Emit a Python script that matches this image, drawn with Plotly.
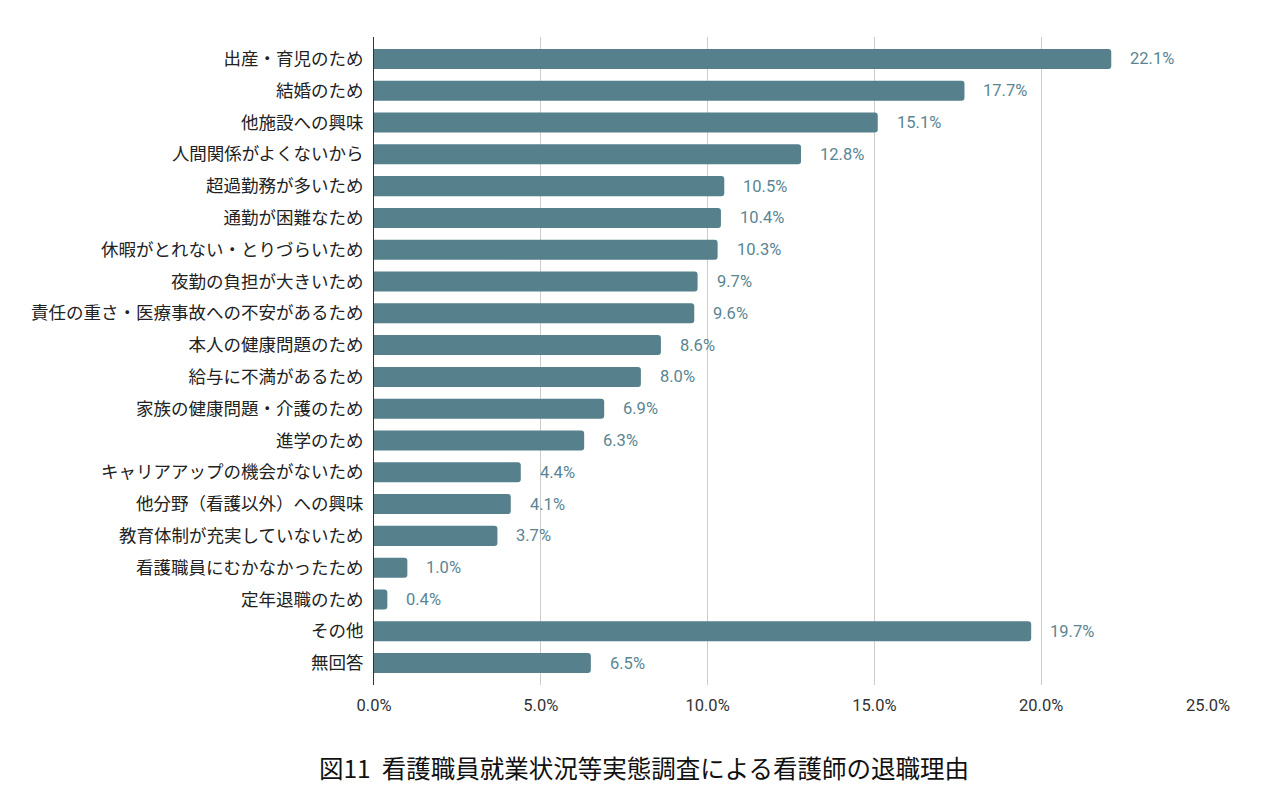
import plotly.graph_objects as go

categories = ["出産・育児のため", "結婚のため", "他施設への興味", "人間関係がよくないから",
              "超過勤務が多いため", "通勤が困難なため", "休暇がとれない・とりづらいため",
              "夜勤の負担が大きいため", "責任の重さ・医療事故への不安があるため",
              "本人の健康問題のため", "給与に不満があるため", "家族の健康問題・介護のため",
              "進学のため", "キャリアアップの機会がないため", "他分野（看護以外）への興味",
              "教育体制が充実していないため", "看護職員にむかなかったため", "定年退職のため",
              "その他", "無回答"]
values = [22.1, 17.7, 15.1, 12.8, 10.5, 10.4, 10.3, 9.7, 9.6, 8.6, 8.0, 6.9, 6.3,
          4.4, 4.1, 3.7, 1.0, 0.4, 19.7, 6.5]
tick_vals = [0, 5, 10, 15, 20, 25]
tick_text = ["0.0%", "5.0%", "10.0%", "15.0%", "20.0%", "25.0%"]
title = "図11&nbsp;&nbsp;看護職員就業状況等実態調査による看護師の退職理由"

FONT = "Roboto, 'Noto Sans CJK JP', sans-serif"
CJK = "'Noto Sans CJK JP', sans-serif"
BAR = "#55808c"

fig = go.Figure()
fig.add_trace(go.Bar(
    y=categories, x=values, orientation="h",
    marker=dict(color=BAR, line=dict(width=0)),
    hoverinfo="skip",
))

for c, v in zip(categories, values):
    fig.add_annotation(x=v, y=c, text=f"{v:.1f}%", showarrow=False,
                       xanchor="left", xshift=17,
                       font=dict(family=FONT, size=16.5, color="#5a8592"))

fig.add_annotation(x=0.324, y=-0.127, xref="paper", yref="paper", text=title,
                   showarrow=False, xanchor="center", yanchor="middle",
                   font=dict(family=CJK, size=24.5, color="#111"))

n = len(categories)
fig.update_layout(
    width=1274, height=812,
    margin=dict(l=374, r=66, t=37, b=127),
    plot_bgcolor="white", paper_bgcolor="white",
    bargap=0.37, barcornerradius=3,
    showlegend=False,
    font=dict(family=FONT, size=14, color="#222"),
    xaxis=dict(range=[0, 25], tickvals=tick_vals, ticktext=tick_text,
               showgrid=True, gridcolor="#cccccc", gridwidth=1,
               zeroline=False, showline=False, ticks="", ticklabelstandoff=8,
               tickfont=dict(family=FONT, size=16.5, color="#333"), fixedrange=True),
    yaxis=dict(range=[n - 1 + 0.69, -0.69], showline=True, linecolor="#333", linewidth=1,
               ticks="", ticklabelstandoff=6, automargin=False,
               tickfont=dict(family=CJK, size=17.5, color="#222")),
)

fig.write_html("out.html", config={"displayModeBar": False},
               post_script="document.body.style.margin='0';document.body.style.padding='0';")
